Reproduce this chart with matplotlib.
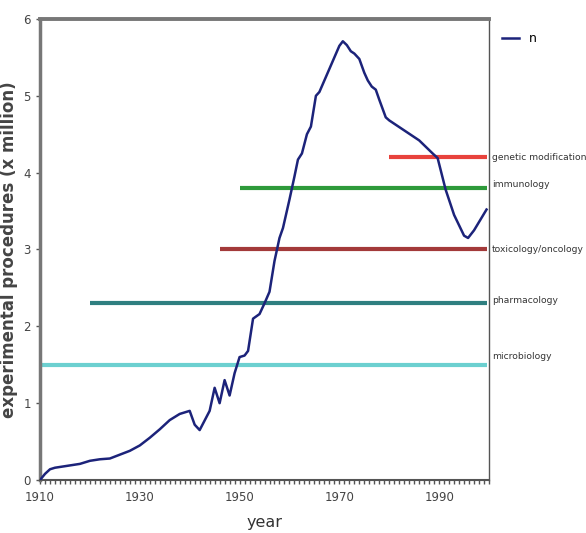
import matplotlib.pyplot as plt
from matplotlib.ticker import MultipleLocator, FixedLocator

# curve n (millions of experimental procedures per year)
years = [1910, 1911, 1912, 1913, 1915, 1916, 1918, 1920, 1922, 1924, 1926, 1928,
         1930, 1932, 1934, 1936, 1938, 1939, 1940, 1941, 1942, 1944, 1945, 1946,
         1947, 1948, 1949, 1950, 1951, 1951.7, 1952.7, 1954, 1955, 1956, 1957,
         1958, 1958.7, 1960, 1961, 1961.7, 1962.5, 1963.5, 1964.3, 1965.3, 1966,
         1967, 1968, 1969, 1970, 1970.7, 1971.5, 1972.3, 1973, 1974, 1975, 1975.7,
         1976.5, 1977.3, 1978, 1979.3, 1980, 1983, 1986, 1988.7, 1989.7, 1991.3,
         1993, 1995, 1995.8, 1997, 1999.5]
n = [0.0, 0.08, 0.14, 0.16, 0.18, 0.19, 0.21, 0.25, 0.27, 0.28, 0.33, 0.38,
     0.45, 0.55, 0.66, 0.78, 0.86, 0.88, 0.9, 0.72, 0.65, 0.9, 1.2, 1.0,
     1.3, 1.1, 1.39, 1.6, 1.62, 1.68, 2.1, 2.16, 2.3, 2.45, 2.85,
     3.15, 3.28, 3.65, 3.95, 4.17, 4.25, 4.5, 4.6, 5.0, 5.05,
     5.2, 5.35, 5.5, 5.65, 5.71, 5.66, 5.58, 5.55, 5.48, 5.3, 5.2,
     5.12, 5.08, 4.95, 4.72, 4.68, 4.55, 4.42, 4.25, 4.19, 3.78,
     3.45, 3.18, 3.15, 3.25, 3.52]

# research areas: label, value, start year, colour
areas = ['genetic modification', 'immunology', 'toxicology/oncology',
         'pharmacology', 'microbiology']
area_vals = [4.2, 3.8, 3.0, 2.3, 1.5]
area_start = [1980, 1950, 1946, 1920, 1910]
area_colors = ['#e8423c', '#2e9a3a', '#a33a3a', '#2f7f80', '#6cd0d0']
label_shift = [0.0, 0.04, 0.0, 0.03, 0.11]

xticks = [1910, 1930, 1950, 1970, 1990]

fig = plt.figure(figsize=(5.86, 5.33), dpi=100)
ax = fig.add_axes([0.0683, 0.0994, 0.7662, 0.865])

for lab, v, s, c, d in zip(areas, area_vals, area_start, area_colors, label_shift):
    ax.plot([s, 1999.5], [v, v], color=c, lw=3, solid_capstyle='butt', zorder=2)
    ax.text(2000.6, v + d, lab, fontsize=6.6, color='#333333',
            va='center', ha='left', clip_on=False)

ax.plot(years, n, color='#1c237a', lw=1.8, label='n', zorder=3)

ax.set_xlim(1910, 2000)
ax.set_ylim(0, 6)
ax.xaxis.set_major_locator(FixedLocator(xticks))
ax.xaxis.set_minor_locator(MultipleLocator(1))
ax.yaxis.set_major_locator(MultipleLocator(1))
ax.tick_params(axis='x', which='minor', length=3, width=1, color='#555555', direction='out')
ax.tick_params(axis='x', which='major', length=3, width=1, color='#555555', pad=5)
ax.tick_params(axis='y', length=3, width=1, color='#555555')
for lbl in ax.get_xticklabels() + ax.get_yticklabels():
    lbl.set_fontsize(8.5)
    lbl.set_color('#444444')

ax.spines['top'].set_color('#777777')
ax.spines['top'].set_linewidth(2.8)
ax.spines['left'].set_color('#777777')
ax.spines['left'].set_linewidth(2.5)
ax.spines['bottom'].set_color('#555555')
ax.spines['bottom'].set_linewidth(1.5)
ax.spines['right'].set_color('#555555')
ax.spines['right'].set_linewidth(1)

ax.set_ylabel('experimental procedures (x million)', fontsize=12, fontweight='bold',
              color='#444444', labelpad=4)
ax.set_xlabel('year', fontsize=11.5, color='#333333', labelpad=8)

ax.legend(loc='upper left', bbox_to_anchor=(1.01, 0.99), frameon=False,
          handlelength=1.3, fontsize=9, labelspacing=0.2, borderaxespad=0.3)

fig.savefig('out.png', dpi=100)
